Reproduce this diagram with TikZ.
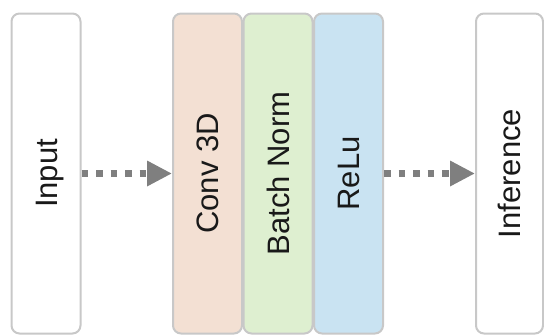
\documentclass[tikz,border=0pt]{standalone}
\usepackage{fontspec}
\setmainfont{Liberation Sans}
\usetikzlibrary{arrows.meta}

\definecolor{convfill}{HTML}{F3E0D3}
\definecolor{normfill}{HTML}{DEEFD0}
\definecolor{relufill}{HTML}{C9E3F2}
\definecolor{boxline}{HTML}{C8C8C8}
\definecolor{flowgray}{HTML}{7F7F7F}

\tikzset{
  layer/.style={draw=boxline, line width=2pt, rounded corners=8pt, rotate=90,
    minimum width=320pt, minimum height=69pt, inner sep=0pt,
    text height=22pt, text depth=0pt, text=black!90,
    font=\fontsize{31}{37}\selectfont},
  flow/.style={draw=flowgray, line width=6.5pt, dash pattern=on 6.5pt off 8pt,
    -{Triangle[length=25pt, width=24pt]}}
}

\begin{document}
\begin{tikzpicture}[x=1pt, y=-1pt]
  \useasboundingbox (0,0) rectangle (544,335);

  % input and output
  \node[layer, fill=white] (input) at (46,173.5) {Input};
  \node[layer, fill=white, minimum height=67pt] (infer) at (509.5,173.5) {Inference};

  % the block
  \node[layer, fill=convfill] (conv) at (207.5,173.5) {Conv 3D};
  \node[layer, fill=normfill] (bnorm) at (278,173.5) {Batch Norm};
  \node[layer, fill=relufill] (relu) at (348.5,173.5) {ReLu};

  % flow
  \draw[flow] (input.south) -- (conv.north);
  \draw[flow] (relu.south) -- (infer.north);
\end{tikzpicture}
\end{document}
